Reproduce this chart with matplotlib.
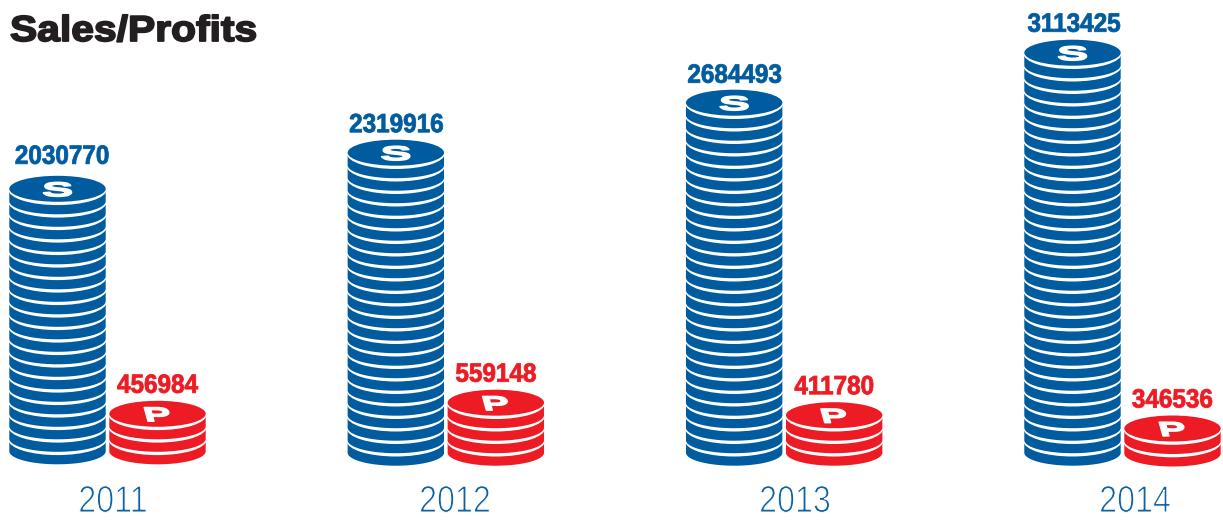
import numpy as np
import matplotlib
matplotlib.use("Agg")
import matplotlib.pyplot as plt
from matplotlib.patches import Polygon, Ellipse
from matplotlib.patheffects import AbstractPathEffect
from matplotlib.transforms import Affine2D

# ---------- data ----------
years = ["2011", "2012", "2013", "2014"]
sales = [2030770, 2319916, 2684493, 3113425]
profits = [456984, 559148, 411780, 346536]
sales_coins = [21, 24, 28, 32]
profit_coins = [3, 4, 3, 2]
title = "Sales/Profits"

# ---------- style ----------
BLUE = "#005c9e"
RED = "#ed1c24"
YEAR_BLUE = "#0f62a2"
DARK = "#231f20"
STEP_X = 338.33   # pixels per group
PITCH = 12.5      # pixels per coin
LEFT_PX = 57.5    # centre of first stack
BASE_PX = 452.7   # pixel row of y = 0
RED_SHIFT = 100 / STEP_X
RX = 48.2 / STEP_X
RY = 13 / PITCH


class Reshape(AbstractPathEffect):
    """Scale / shear a text's glyphs about their own centre; the outline can fatten or thin them."""
    def __init__(self, sx=1.0, sy=1.0, shear=0.0, stroke=0.0, stroke_color=None):
        self.sx, self.sy, self.shear, self.stroke = sx, sy, shear, stroke
        self.stroke_color = stroke_color

    def draw_path(self, renderer, gc, tpath, affine, rgbFace=None):
        ext = tpath.get_extents()
        cx, cy = (ext.x0 + ext.x1) / 2, (ext.y0 + ext.y1) / 2
        sh = Affine2D(np.array([[1, -self.shear, 0], [0, 1, 0], [0, 0, 1]], float))
        t = (Affine2D().translate(-cx, -cy).scale(self.sx, self.sy) + sh
             + Affine2D().translate(cx, cy) + affine)
        gc0 = renderer.new_gc()
        gc0.copy_properties(gc)
        if self.stroke > 0:
            gc0.set_linewidth(self.stroke)
            gc0.set_foreground(self.stroke_color if self.stroke_color else rgbFace)
        renderer.draw_path(gc0, tpath, t, rgbFace)
        gc0.restore()


fig = plt.figure(figsize=(12.23, 5.20), dpi=100, facecolor="white")
ax = fig.add_axes([0, 0, 1, 1])
ax.set_xlim(-LEFT_PX / STEP_X, (1223 - LEFT_PX) / STEP_X)
ax.set_ylim((BASE_PX - 520) / PITCH, BASE_PX / PITCH)
ax.axis("off")

theta = np.linspace(0, np.pi, 60)


def draw_stack(xc, y0, count, color, z):
    for i in range(count):
        y = y0 + i
        xs = xc + RX * np.cos(theta)
        ys = y - RY * np.sin(theta)
        pts = np.column_stack([xs, ys])
        pts = np.vstack([pts, [xc - RX, y + 1], [xc + RX, y + 1]])
        ax.add_patch(Polygon(pts, closed=True, fc=color, ec="none", zorder=z))
        z += 1
        ax.add_patch(Ellipse((xc, y + 1 - 1.0 / PITCH), 2 * RX + 1.5 / STEP_X,
                             2 * RY + 4.6 / PITCH, fc="white", ec="none", zorder=z))
        z += 1
    ax.add_patch(Ellipse((xc, y0 + count), 2 * RX, 2 * RY, fc=color, ec="none", zorder=z))
    return z + 1


base_shift = [-1.4, 0.0, 0.0, 0.0]
red_shift = [-1.4, 0.0, 0.0, 0.8]
sales_label_dx = [4.5, 0.5, 0.5, 1.5]
sales_label_gap = [12, 7.5, 7, 8]
year_x = [113, 455, 795, 1135]
GLYPH_DY = 2 / PITCH

z = 2
for g, yr in enumerate(years):
    y_b = -base_shift[g] / PITCH
    z = draw_stack(g, y_b, sales_coins[g], BLUE, z)
    top_b = y_b + sales_coins[g]
    ax.text(g, top_b - GLYPH_DY, "S", color="white", family="Liberation Sans", weight="bold",
            fontsize=14.5, ha="center", va="center", zorder=z,
            path_effects=[Reshape(sx=2.35, sy=1.0, stroke=1.0)])
    ax.text(g + sales_label_dx[g] / STEP_X,
            top_b + RY + sales_label_gap[g] / PITCH, f"{sales[g]}", color=BLUE,
            family="Liberation Sans", weight="bold", fontsize=19,
            ha="center", va="baseline", zorder=z,
            path_effects=[Reshape(sx=0.92, stroke=0.6)])

    x_r = g + RED_SHIFT
    y_r = -red_shift[g] / PITCH
    z = draw_stack(x_r, y_r, profit_coins[g], RED, z)
    top_r = y_r + profit_coins[g]
    ax.text(x_r, top_r - GLYPH_DY, "P", color="white", family="Liberation Sans", weight="bold",
            fontsize=14.5, ha="center", va="center", zorder=z,
            path_effects=[Reshape(sx=2.05, sy=1.0, shear=0.28, stroke=1.0)])
    ax.text(x_r, top_r + RY + 8 / PITCH, f"{profits[g]}", color=RED,
            family="Liberation Sans", weight="bold", fontsize=19,
            ha="center", va="baseline", zorder=z,
            path_effects=[Reshape(sx=0.92, stroke=0.6)])

    ax.text((year_x[g] - LEFT_PX) / STEP_X, (BASE_PX - 512) / PITCH, yr, color=YEAR_BLUE,
            family="Liberation Sans", fontsize=27, ha="center", va="baseline",
            path_effects=[Reshape(sx=0.86, stroke=0.7, stroke_color="white")])

ax.text((133.5 - LEFT_PX) / STEP_X, (BASE_PX - 41) / PITCH, title, color=DARK,
        family="Liberation Sans", weight="bold", fontsize=26, ha="center", va="baseline",
        path_effects=[Reshape(sx=1.13, stroke=1.3)])

fig.savefig("out.png", dpi=100, facecolor="white")
